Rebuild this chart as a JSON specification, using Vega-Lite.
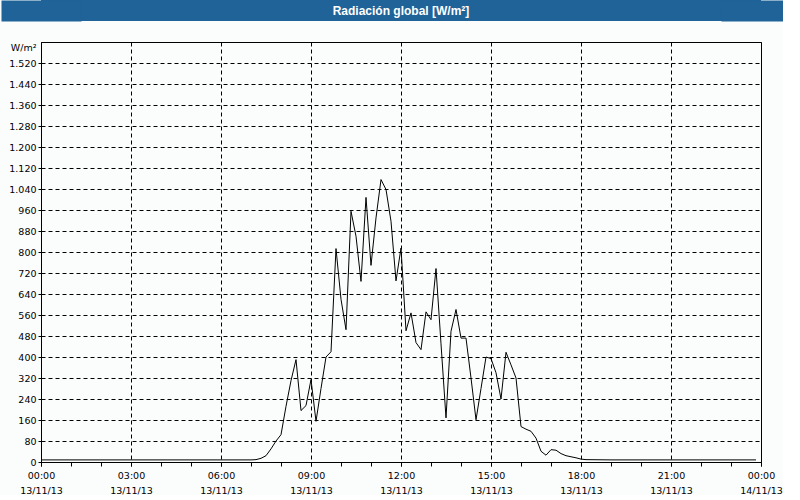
{
  "$schema": "https://vega.github.io/schema/vega-lite/v6.json",
  "background": "#fbfdfd",
  "padding": 0,
  "columns": 1,
  "align": "none",
  "spacing": 20,
  "config": {"view": {"stroke": null}, "font": "DejaVu Sans"},
  "concat": [
    {
      "width": 720,
      "height": 21,
      "view": {"fill": "#1f6398", "stroke": null},
      "data": {"values": [{"titulo": "Radiación global [W/m²]", "fila": "titulo"}]},
      "layer": [
        {
          "mark": {"type": "text", "color": "white", "fontWeight": "bold", "font": "Liberation Sans", "fontSize": 12, "baseline": "middle", "align": "center"},
          "encoding": {
            "text": {"field": "titulo", "type": "nominal"},
            "y": {"field": "fila", "type": "nominal", "axis": {"orient": "left", "title": null, "labels": false, "ticks": false, "grid": false, "domain": true, "domainColor": "#1f6398", "domainWidth": 80}}
          }
        },
        {
          "mark": {"type": "text", "opacity": 0},
          "encoding": {
            "text": {"field": "titulo", "type": "nominal"},
            "y": {"field": "fila", "type": "nominal", "axis": {"orient": "right", "title": null, "labels": false, "ticks": false, "grid": false, "domain": true, "domainColor": "#1f6398", "domainWidth": 80}}
          }
        }
      ],
      "resolve": {"axis": {"y": "independent"}}
    },
    {
      "width": 720,
      "height": 420,
      "view": {"stroke": "black", "strokeWidth": 1, "fill": "#fbfdfd"},
      "data": {"values": [
        {"hora": "2013-11-13T00:00:00Z", "radiacion": 8},
        {"hora": "2013-11-13T01:00:00Z", "radiacion": 8},
        {"hora": "2013-11-13T02:00:00Z", "radiacion": 8},
        {"hora": "2013-11-13T03:00:00Z", "radiacion": 8},
        {"hora": "2013-11-13T04:00:00Z", "radiacion": 8},
        {"hora": "2013-11-13T05:00:00Z", "radiacion": 8},
        {"hora": "2013-11-13T06:00:00Z", "radiacion": 8},
        {"hora": "2013-11-13T07:00:00Z", "radiacion": 8},
        {"hora": "2013-11-13T07:10:00Z", "radiacion": 9},
        {"hora": "2013-11-13T07:20:00Z", "radiacion": 14},
        {"hora": "2013-11-13T07:30:00Z", "radiacion": 24},
        {"hora": "2013-11-13T07:40:00Z", "radiacion": 50},
        {"hora": "2013-11-13T07:50:00Z", "radiacion": 80},
        {"hora": "2013-11-13T08:00:00Z", "radiacion": 104},
        {"hora": "2013-11-13T08:10:00Z", "radiacion": 212},
        {"hora": "2013-11-13T08:20:00Z", "radiacion": 310},
        {"hora": "2013-11-13T08:30:00Z", "radiacion": 390},
        {"hora": "2013-11-13T08:40:00Z", "radiacion": 196},
        {"hora": "2013-11-13T08:50:00Z", "radiacion": 215},
        {"hora": "2013-11-13T09:00:00Z", "radiacion": 314},
        {"hora": "2013-11-13T09:10:00Z", "radiacion": 155},
        {"hora": "2013-11-13T09:20:00Z", "radiacion": 280},
        {"hora": "2013-11-13T09:30:00Z", "radiacion": 400},
        {"hora": "2013-11-13T09:40:00Z", "radiacion": 420},
        {"hora": "2013-11-13T09:50:00Z", "radiacion": 813},
        {"hora": "2013-11-13T10:00:00Z", "radiacion": 620},
        {"hora": "2013-11-13T10:10:00Z", "radiacion": 504},
        {"hora": "2013-11-13T10:20:00Z", "radiacion": 955},
        {"hora": "2013-11-13T10:30:00Z", "radiacion": 860},
        {"hora": "2013-11-13T10:40:00Z", "radiacion": 688},
        {"hora": "2013-11-13T10:50:00Z", "radiacion": 1008},
        {"hora": "2013-11-13T11:00:00Z", "radiacion": 749},
        {"hora": "2013-11-13T11:10:00Z", "radiacion": 930},
        {"hora": "2013-11-13T11:20:00Z", "radiacion": 1076},
        {"hora": "2013-11-13T11:30:00Z", "radiacion": 1038},
        {"hora": "2013-11-13T11:40:00Z", "radiacion": 917},
        {"hora": "2013-11-13T11:50:00Z", "radiacion": 690},
        {"hora": "2013-11-13T12:00:00Z", "radiacion": 815},
        {"hora": "2013-11-13T12:10:00Z", "radiacion": 500},
        {"hora": "2013-11-13T12:20:00Z", "radiacion": 568},
        {"hora": "2013-11-13T12:30:00Z", "radiacion": 455},
        {"hora": "2013-11-13T12:40:00Z", "radiacion": 428},
        {"hora": "2013-11-13T12:50:00Z", "radiacion": 572},
        {"hora": "2013-11-13T13:00:00Z", "radiacion": 542},
        {"hora": "2013-11-13T13:10:00Z", "radiacion": 737},
        {"hora": "2013-11-13T13:20:00Z", "radiacion": 450},
        {"hora": "2013-11-13T13:30:00Z", "radiacion": 168},
        {"hora": "2013-11-13T13:40:00Z", "radiacion": 498},
        {"hora": "2013-11-13T13:50:00Z", "radiacion": 581},
        {"hora": "2013-11-13T14:00:00Z", "radiacion": 472},
        {"hora": "2013-11-13T14:10:00Z", "radiacion": 472},
        {"hora": "2013-11-13T14:20:00Z", "radiacion": 320},
        {"hora": "2013-11-13T14:30:00Z", "radiacion": 161},
        {"hora": "2013-11-13T14:40:00Z", "radiacion": 280},
        {"hora": "2013-11-13T14:50:00Z", "radiacion": 400},
        {"hora": "2013-11-13T15:00:00Z", "radiacion": 394},
        {"hora": "2013-11-13T15:10:00Z", "radiacion": 340},
        {"hora": "2013-11-13T15:20:00Z", "radiacion": 240},
        {"hora": "2013-11-13T15:30:00Z", "radiacion": 418},
        {"hora": "2013-11-13T15:40:00Z", "radiacion": 370},
        {"hora": "2013-11-13T15:50:00Z", "radiacion": 320},
        {"hora": "2013-11-13T16:00:00Z", "radiacion": 135},
        {"hora": "2013-11-13T16:10:00Z", "radiacion": 125},
        {"hora": "2013-11-13T16:20:00Z", "radiacion": 117},
        {"hora": "2013-11-13T16:30:00Z", "radiacion": 91},
        {"hora": "2013-11-13T16:40:00Z", "radiacion": 41},
        {"hora": "2013-11-13T16:50:00Z", "radiacion": 26},
        {"hora": "2013-11-13T17:00:00Z", "radiacion": 47},
        {"hora": "2013-11-13T17:10:00Z", "radiacion": 45},
        {"hora": "2013-11-13T17:20:00Z", "radiacion": 32},
        {"hora": "2013-11-13T17:30:00Z", "radiacion": 24},
        {"hora": "2013-11-13T17:40:00Z", "radiacion": 20},
        {"hora": "2013-11-13T17:50:00Z", "radiacion": 16},
        {"hora": "2013-11-13T18:00:00Z", "radiacion": 11},
        {"hora": "2013-11-13T18:10:00Z", "radiacion": 9},
        {"hora": "2013-11-13T19:00:00Z", "radiacion": 8},
        {"hora": "2013-11-13T20:00:00Z", "radiacion": 8},
        {"hora": "2013-11-13T21:00:00Z", "radiacion": 8},
        {"hora": "2013-11-13T22:00:00Z", "radiacion": 8},
        {"hora": "2013-11-13T23:00:00Z", "radiacion": 8},
        {"hora": "2013-11-13T23:50:00Z", "radiacion": 8}
      ]},
      "encoding": {
        "y": {
          "field": "radiacion",
          "type": "quantitative",
          "scale": {"domain": [0, 1600], "nice": false},
          "axis": {
            "values": [0, 80, 160, 240, 320, 400, 480, 560, 640, 720, 800, 880, 960, 1040, 1120, 1200, 1280, 1360, 1440, 1520],
            "labelExpr": "replace(format(datum.value, ','), ',', '.')",
            "labelFontSize": 9.5,
            "labelColor": "black",
            "labelPadding": -35,
            "domainColor": "black",
            "tickColor": "black",
            "tickSize": 40,
            "tickDash": [3, 100],
            "grid": true,
            "gridColor": "black",
            "gridDash": [4, 3],
            "title": "W/m²",
            "titleAngle": 0,
            "titleAlign": "right",
            "titleBaseline": "middle",
            "titleX": -5,
            "titleY": 5,
            "titleFontSize": 9.5,
            "titleFontWeight": "normal",
            "titleColor": "black"
          }
        }
      },
      "layer": [
        {
          "mark": {"type": "line", "color": "black", "strokeWidth": 1},
          "encoding": {
            "x": {
              "field": "hora",
              "type": "temporal",
              "scale": {"type": "utc", "domain": [1384300800000, 1384387200000], "nice": false},
              "axis": {"orient": "bottom", "title": null, "tickCount": 24, "labels": false, "grid": false, "domainColor": "black", "tickColor": "black", "tickSize": 4}
            }
          }
        },
        {
          "mark": {"type": "line", "strokeOpacity": 0},
          "encoding": {
            "x": {
              "field": "hora",
              "type": "temporal",
              "scale": {"type": "utc", "domain": [1384300800000, 1384387200000], "nice": false},
              "axis": {"orient": "bottom", "title": null, "tickCount": 8, "format": "%H:%M", "labelFlush": false, "labelOverlap": false, "labelFontSize": 9.5, "labelColor": "black", "labelPadding": 4, "domain": false, "ticks": true, "tickColor": "black", "tickSize": 4, "grid": true, "gridColor": "black", "gridDash": [4, 3], "gridOpacity": 1}
            }
          }
        },
        {
          "mark": {"type": "line", "strokeOpacity": 0},
          "encoding": {
            "x": {
              "field": "hora",
              "type": "temporal",
              "scale": {"type": "utc", "domain": [1384300800000, 1384387200000], "nice": false},
              "axis": {"orient": "bottom", "title": null, "tickCount": 8, "format": "%d/%m/%y", "labelFlush": false, "labelOverlap": false, "labelFontSize": 9.5, "labelColor": "black", "labelPadding": 4, "offset": 19, "domain": false, "ticks": false, "tickSize": 0, "grid": false}
            }
          }
        }
      ],
      "resolve": {"axis": {"x": "independent"}}
    }
  ]
}
